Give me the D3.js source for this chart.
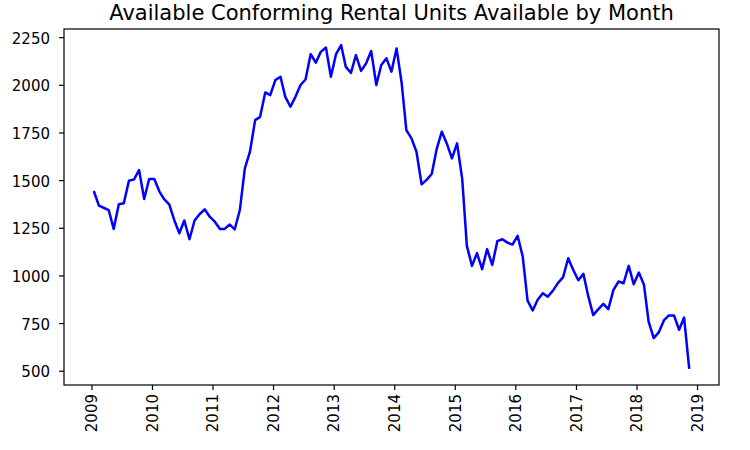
<!DOCTYPE html>
<html>
<head>
<meta charset="utf-8">
<script src="https://cdn.jsdelivr.net/npm/d3@7"></script>
<style>
  html, body { margin: 0; padding: 0; background: #ffffff; }
  svg { display: block; font-family: "DejaVu Sans", sans-serif; }
</style>
</head>
<body>
<div id="chart"></div>
<script>
// ---- data (monthly, Jan 2009 .. Nov 2018) ----
const title = "Available Conforming Rental Units Available by Month";
const firstMonth = [2009, 0];   // Jan 2009
const units = [
  1443, 1366, 1355, 1343, 1244, 1373, 1379, 1497, 1504, 1553, 1401, 1506,   // 2009
  1506, 1440, 1400, 1373, 1291, 1221, 1288, 1190, 1288, 1321, 1347, 1308,   // 2010
  1282, 1244, 1244, 1267, 1242, 1343, 1562, 1649, 1815, 1832, 1960, 1946,   // 2011
  2025, 2042, 1937, 1885, 1937, 1999, 2028, 2161, 2116, 2173, 2196, 2042,   // 2012
  2161, 2208, 2094, 2063, 2156, 2073, 2112, 2177, 1999, 2104, 2139, 2069,   // 2013
  2191, 2008, 1762, 1719, 1649, 1478, 1501, 1532, 1667, 1754, 1690, 1614,   // 2014
  1693, 1505, 1155, 1050, 1117, 1033, 1138, 1055, 1180, 1190, 1172, 1162,   // 2015
  1208, 1099,  868,  816,  872,  907,  888,  920,  961,  990, 1090, 1030,   // 2016
   975, 1008,  895,  792,  822,  851,  823,  924,  968,  959, 1050,  954,   // 2017
  1015,  951,  758,  671,  701,  764,  790,  790,  715,  779,  510          // 2018
];
const yTicks = [500, 750, 1000, 1250, 1500, 1750, 2000, 2250];
const xTickYears = [2009, 2010, 2011, 2012, 2013, 2014, 2015, 2016, 2017, 2018, 2019];

// ---- build table ----
const data = units.map((v, i) => ({
  date: new Date(firstMonth[0], firstMonth[1] + i, 15),
  value: v
}));

// ---- layout ----
const W = 750, H = 450;
const plot = { left: 64, right: 719, top: 29, bottom: 385 };

const svg = d3.select("#chart").append("svg")
  .attr("width", W).attr("height", H);

// matplotlib-like 5% margins
const xExt = d3.extent(data, d => d.date);
const xPad = (xExt[1] - xExt[0]) * 0.05;
const x = d3.scaleTime()
  .domain([new Date(+xExt[0] - xPad), new Date(+xExt[1] + xPad)])
  .range([plot.left, plot.right]);

const yExt = d3.extent(data, d => d.value);
const yPad = (yExt[1] - yExt[0]) * 0.05;
const y = d3.scaleLinear()
  .domain([yExt[0] - yPad, yExt[1] + yPad])
  .range([plot.bottom, plot.top]);

// ---- line ----
const line = d3.line().x(d => x(d.date)).y(d => y(d.value));
svg.append("path")
  .datum(data)
  .attr("d", line)
  .attr("fill", "none")
  .attr("stroke", "#0000ff")
  .attr("stroke-width", 2.5)
  .attr("stroke-linejoin", "round")
  .attr("stroke-linecap", "butt");

// ---- axes ----
const yAxis = d3.axisLeft(y).tickValues(yTicks).tickSize(5).tickPadding(9)
  .tickFormat(d3.format("d"));
const gy = svg.append("g")
  .attr("transform", `translate(${plot.left},0)`)
  .call(yAxis);
gy.select(".domain").remove();
gy.selectAll(".tick line").attr("stroke", "#000").attr("stroke-width", 1.2);
gy.selectAll(".tick text")
  .attr("fill", "#000")
  .style("font-size", "15px")
  .style("font-family", "'DejaVu Sans', sans-serif")
  .attr("dy", "0.4em");

const xAxis = d3.axisBottom(x)
  .tickValues(xTickYears.map(yr => new Date(yr, 0, 1)))
  .tickSize(5)
  .tickFormat(d3.timeFormat("%Y"));
const gx = svg.append("g")
  .attr("transform", `translate(0,${plot.bottom})`)
  .call(xAxis);
gx.select(".domain").remove();
gx.selectAll(".tick line").attr("stroke", "#000").attr("stroke-width", 1.2);
gx.selectAll(".tick text")
  .attr("fill", "#000")
  .style("font-size", "15px")
  .style("font-family", "'DejaVu Sans', sans-serif")
  .attr("text-anchor", "end")
  .attr("y", 0).attr("x", 0)
  .attr("dy", "0.35em")
  .attr("transform", "translate(0,9) rotate(-90)");

// ---- frame ----
svg.append("rect")
  .attr("x", plot.left).attr("y", plot.top)
  .attr("width", plot.right - plot.left)
  .attr("height", plot.bottom - plot.top)
  .attr("fill", "none")
  .attr("stroke", "#000")
  .attr("stroke-width", 1.2);

// ---- title ----
svg.append("text")
  .attr("x", (plot.left + plot.right) / 2)
  .attr("y", 19.5)
  .attr("text-anchor", "middle")
  .style("font-size", "21px")
  .style("font-family", "'DejaVu Sans', sans-serif")
  .attr("fill", "#000")
  .text(title);
</script>
</body>
</html>
